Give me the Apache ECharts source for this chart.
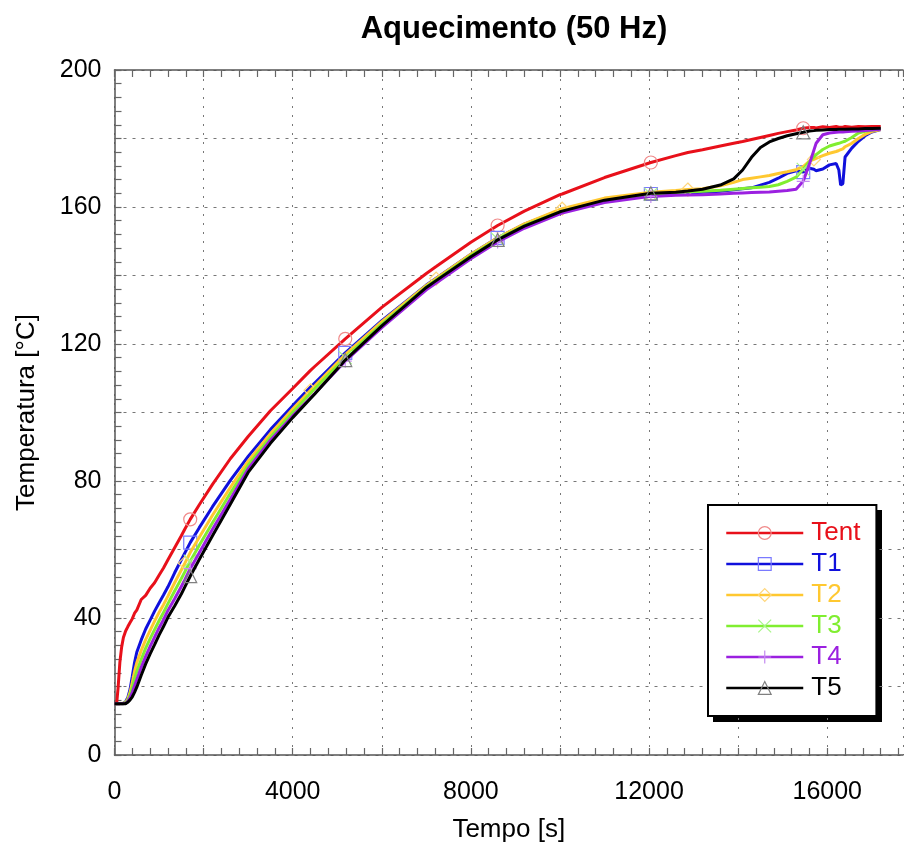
<!DOCTYPE html>
<html>
<head>
<meta charset="utf-8">
<script src="https://cdn.jsdelivr.net/npm/echarts@6/dist/echarts.min.js"></script>
<style>
html, body { margin: 0; padding: 0; background: #fff; }
#chart { width: 904px; height: 850px; }
</style>
</head>
<body>
<div id="chart"></div>
<script>
// tempo [s]
const tempo = [0, 50, 80, 120, 160, 200, 250, 300, 350, 400, 450, 500, 600, 700, 800, 900, 1000, 1100, 1200, 1350,
  1500, 1580, 1700, 1900, 2200, 2600, 3000, 3500, 4000, 4400, 4500, 5180, 6000, 7000, 7220, 8000, 8600, 9200, 10000, 10050,
  11000, 12040, 12600, 12870, 13200, 13600, 13900, 14100, 14300, 14500, 14700, 14900, 15100, 15300, 15460, 15600, 15700, 15750, 15900, 16050,
  16200, 16260, 16300, 16350, 16400, 16550, 16700, 16850, 17000, 17200]

// temperaturas [°C]
const tent = [15, 15.2, 19.5, 27, 31.5, 34.3, 36.2, 37.5, 38.7, 39.8, 41.4, 42.3, 45.4, 46.6, 48.7, 50.3, 52.5, 54.6, 57, 60.5,
  64, 66, 68.8, 73, 79, 86.5, 93, 100.5, 107, 112.3, 113.5, 121.5, 130.7, 140.6, 142.6, 149.7, 154.6, 158.8, 163.6, 163.8,
  168.6, 173, 175, 175.9, 176.7, 177.8, 178.6, 179.1, 179.7, 180.3, 180.9, 181.5, 182, 182.5, 183, 183.2, 183.2, 183.1, 183.4, 183.2,
  183.5, 183.3, 183.5, 183.3, 183.5, 183.3, 183.5, 183.4, 183.5, 183.5]
const t1 = [15, 15, 15, 15, 15, 15.1, 15.6, 16.8, 19.2, 23, 27, 30, 33.6, 36.8, 39.4, 42, 44.4, 46.7, 49.1, 53.2,
  57, 59, 62, 66.3, 72.5, 80.2, 87.2, 95, 102, 107.4, 108.7, 117.4, 126.8, 137.2, 139.2, 146.2, 151, 155, 159, 159.2,
  162.2, 163.8, 164, 164.1, 164.3, 164.6, 165, 165.3, 165.6, 166.4, 167.2, 168.4, 169.8, 170.6, 170.2, 171.3, 171, 170.6, 171.1, 172.3,
  172.7, 170.8, 166.4, 166.8, 174.6, 177.2, 179.2, 180.8, 181.9, 182.6]
const t2 = [15, 15, 15, 15, 15, 15.1, 15.4, 16.4, 18.3, 21.2, 24.4, 26.9, 30.5, 33.7, 36.4, 39.1, 41.6, 43.9, 46.4, 50.3,
  54, 56, 59.1, 63.5, 70, 78.1, 85.8, 93.8, 101, 106.5, 107.8, 116.9, 126.5, 137.1, 139.1, 146.2, 151, 155.1, 159.3, 159.5,
  162.6, 164.3, 164.8, 165.1, 165.3, 166.2, 167.2, 168, 168.4, 168.8, 169.2, 169.8, 170.3, 170.9, 171.8, 173.4, 173.9, 174.2, 175, 175.7,
  176.2, 176.5, 176.7, 177, 177.6, 178.6, 180, 181.2, 182, 182.6]
const t3 = [15, 15, 15, 15, 15, 15, 15.3, 16, 17.5, 19.7, 22.2, 24.4, 27.9, 31.2, 34, 36.6, 39.2, 41.6, 44.2, 47.9,
  51.5, 53.5, 56.6, 61.2, 67.8, 76.4, 84.6, 92.8, 100.1, 105.6, 107, 116, 125.8, 136.7, 138.7, 145.8, 150.6, 154.6, 158.6, 158.8,
  161.8, 163.7, 164.2, 164.4, 164.6, 164.9, 165.2, 165.4, 165.6, 165.8, 166, 166.5, 167.5, 168.7, 171, 173.3, 174.6, 175.3, 176.8, 177.8,
  178.4, 178.6, 178.8, 179, 179.2, 180.3, 181.6, 182.1, 182.4, 182.8]
const t4 = [15, 15, 15, 15, 15, 15, 15.1, 15.7, 16.8, 18.3, 20.2, 22, 25.6, 28.8, 31.7, 34.4, 37.1, 39.5, 42.2, 45.6,
  49.2, 51.2, 54.4, 59, 65.9, 74.7, 83.5, 91.9, 99, 104.3, 105.6, 115, 124.8, 135.8, 137.8, 144.9, 149.8, 153.8, 158, 158.2,
  161.3, 163.1, 163.4, 163.5, 163.6, 163.8, 164, 164.1, 164.2, 164.3, 164.4, 164.6, 164.8, 165.2, 167.5, 172.6, 176.6, 178.6, 181.1, 181.6,
  181.8, 181.9, 181.9, 181.9, 182, 182.1, 182.2, 182.3, 182.5, 182.7]
const t5 = [15, 15, 15, 15, 15, 15, 15, 15.4, 16.1, 17, 18.3, 19.8, 23.3, 26.6, 29.5, 32.2, 35, 37.5, 40.2, 43.5,
  47, 49.1, 52.2, 57, 64, 73.2, 82.5, 91, 98.5, 104.1, 105.5, 115.3, 125.3, 136.5, 138.5, 145.5, 150.4, 154.4, 158.6, 158.8,
  162, 164, 164.3, 164.7, 165.2, 166.4, 168.2, 170.8, 174.5, 177.4, 179, 180, 180.8, 181.4, 181.8, 182.2, 182.3, 182.4, 182.5, 182.6,
  182.6, 182.7, 182.7, 182.7, 182.7, 182.8, 182.8, 182.9, 182.9, 183]

const nomes = ['Tent', 'T1', 'T2', 'T3', 'T4', 'T5']
const valores = [tent, t1, t2, t3, t4, t5]
// instantes onde aparecem os marcadores
const marcadores = [
  [1700, 5180, 8600, 12040, 15460],
  [1700, 5180, 8600, 12040, 15460],
  [1580, 4400, 7220, 10050, 12870, 15700],
  [1700, 5180, 8600, 12040, 15460],
  [1700, 5180, 8600, 12040, 15460],
  [1700, 5180, 8600, 12040, 15460]
]
const xTicks = [0, 4000, 8000, 12000, 16000]
const yTicks = [0, 40, 80, 120, 160, 200]

const cores = ['#e8101a', '#1010dc', '#ffc830', '#80ee30', '#9b20e0', '#000000']
const coresMarcador = ['#f08a8a', '#7a7aff', '#ffd67a', '#a8f58a', '#c48af0', '#808080']
const simbolos = ['circle', 'rect', 'diamond', 'path://M0,0L10,10M10,0L0,10', 'path://M5,0L5,10M0,5L10,5', 'triangle']

const fonte = 'Liberation Sans'
const chart = echarts.init(document.getElementById('chart'))

const series = nomes.map((nome, k) => ({
  name: nome,
  type: 'line',
  xAxisIndex: 0,
  yAxisIndex: 0,
  symbol: simbolos[k],
  symbolSize: 13,
  showSymbol: true,
  z: 3 + k,
  lineStyle: { color: cores[k], width: 3 },
  itemStyle: { color: 'rgba(255,255,255,0)', borderColor: coresMarcador[k], borderWidth: 1.2 },
  emphasis: { disabled: true },
  data: tempo.map((t, i) => marcadores[k].includes(t)
    ? [t, valores[k][i]]
    : { value: [t, valores[k][i]], symbol: 'none' })
}))

const option = {
  animation: false,
  backgroundColor: '#fff',
  title: {
    text: 'Aquecimento (50 Hz)',
    left: 509,
    top: 9,
    textAlign: 'center',
    textStyle: { fontFamily: fonte, fontWeight: 'bold', fontSize: 31, color: '#000' }
  },
  grid: { left: 114.5, right: 1, top: 70, bottom: 95 },
  // sombra da caixa da legenda
  graphic: [{
    type: 'rect', left: 713, top: 510, z: 0,
    shape: { width: 169, height: 212 },
    style: { fill: '#000' }
  }],
  legend: {
    orient: 'vertical',
    left: 708,
    top: 505,
    itemWidth: 77,
    itemHeight: 16,
    itemGap: 5,
    padding: [15, 16, 15, 17],
    backgroundColor: '#fff',
    borderColor: '#000',
    borderWidth: 2,
    borderRadius: 0,
    selectedMode: false,
    textStyle: { fontFamily: fonte, fontSize: 26, padding: [0, 0, 0, 3] },
    data: nomes.map((n, k) => ({
      name: n,
      textStyle: { color: cores[k] },
      lineStyle: { color: cores[k], width: 2.5 },
      itemStyle: { color: 'rgba(255,255,255,0)', borderColor: coresMarcador[k], borderWidth: 1.2 }
    }))
  },
  xAxis: [
    {
      type: 'value', min: 0, max: 17700, interval: 400,
      name: 'Tempo [s]', nameLocation: 'middle', nameGap: 62,
      nameTextStyle: { fontFamily: fonte, fontSize: 26, color: '#000' },
      axisLine: { lineStyle: { color: '#555', width: 1.5 } },
      axisTick: { inside: true, length: 7, lineStyle: { color: '#666', width: 1.2 } },
      axisLabel: {
        margin: 25, fontFamily: fonte, fontSize: 25, color: '#000', showMaxLabel: false,
        formatter: v => xTicks.includes(v) ? String(v) : ''
      },
      splitLine: { show: false }
    },
    {
      type: 'value', min: 0, max: 17700, interval: 2000, position: 'bottom',
      axisLine: { show: false }, axisTick: { show: false }, axisLabel: { show: false },
      splitLine: { show: true, lineStyle: { color: '#777', width: 1, type: [2, 7] } }
    },
    {
      type: 'value', min: 0, max: 17700, interval: 400, position: 'top',
      axisLine: { lineStyle: { color: '#555', width: 1.5 } },
      axisTick: { inside: true, length: 7, lineStyle: { color: '#666', width: 1.2 } },
      axisLabel: { show: false },
      splitLine: { show: false }
    }
  ],
  yAxis: [
    {
      type: 'value', min: 0, max: 200, interval: 4,
      name: 'Temperatura [°C]', nameLocation: 'middle', nameGap: 75, nameRotate: 90,
      nameTextStyle: { fontFamily: fonte, fontSize: 26, color: '#000' },
      axisLine: { show: true, lineStyle: { color: '#555', width: 1.5 } },
      axisTick: { inside: true, length: 7, lineStyle: { color: '#666', width: 1.2 } },
      axisLabel: {
        margin: 13, fontFamily: fonte, fontSize: 25, color: '#000',
        formatter: v => yTicks.includes(v) ? String(v) : ''
      },
      splitLine: { show: false }
    },
    {
      type: 'value', min: 0, max: 200, interval: 20, position: 'left',
      axisLine: { show: false }, axisTick: { show: false }, axisLabel: { show: false },
      splitLine: { show: true, lineStyle: { color: '#777', width: 1, type: [3, 6] } }
    }
  ],
  series: series
}

chart.setOption(option)
</script>
</body>
</html>
